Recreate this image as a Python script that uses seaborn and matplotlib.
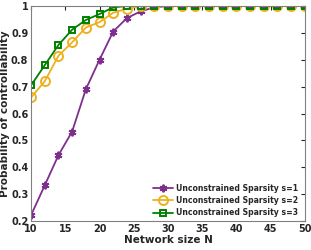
import matplotlib
matplotlib.use("Agg")
import matplotlib.pyplot as plt
import seaborn as sns
import pandas as pd

network_size = [10, 12, 14, 16, 18, 20, 22, 24, 26, 28, 30, 32, 34, 36, 38, 40, 42, 44, 46, 48, 50]
prob_s1 = [0.222, 0.333, 0.445, 0.533, 0.69, 0.80, 0.905, 0.955, 0.98, 0.995, 1, 1, 1, 1, 1, 1, 1, 1, 1, 1, 1]
prob_s2 = [0.66, 0.72, 0.815, 0.865, 0.92, 0.94, 0.975, 0.99, 1, 1, 1, 1, 1, 1, 1, 1, 1, 1, 1, 1, 1]
prob_s3 = [0.705, 0.78, 0.855, 0.912, 0.948, 0.97, 0.995, 1, 1, 1, 1, 1, 1, 1, 1, 1, 1, 1, 1, 1, 1]
labels = ["Unconstrained Sparsity s=1", "Unconstrained Sparsity s=2", "Unconstrained Sparsity s=3"]
colors = ["#7E2F8E", "#EDB120", "#008000"]

df = pd.concat([
    pd.DataFrame({"N": network_size, "p": vals, "series": lab})
    for vals, lab in zip([prob_s1, prob_s2, prob_s3], labels)
])

sns.set_style("white")
plt.rcParams["font.family"] = ["DejaVu Sans"]
plt.rcParams["font.weight"] = "bold"

fig = plt.figure(figsize=(3.11, 2.5), dpi=100)
ax = fig.add_axes([0.1, 0.116, 0.88, 0.86])

markers = {labels[0]: (6, 2, 0), labels[1]: "o", labels[2]: "s"}
sizes = {labels[0]: 5.5, labels[1]: 6.5, labels[2]: 4.8}
for lab, col in zip(labels, colors):
    sub = df[df["series"] == lab]
    sns.lineplot(data=sub, x="N", y="p", ax=ax, color=col, linewidth=1.3,
                 marker=markers[lab], markersize=sizes[lab], markerfacecolor="none",
                 markeredgecolor=col, markeredgewidth=1.4, label=lab)

ax.set_xlim(10, 50)
ax.set_ylim(0.2, 1)
ax.set_xticks(range(10, 51, 5))
ax.set_yticks([0.2, 0.3, 0.4, 0.5, 0.6, 0.7, 0.8, 0.9, 1])
ax.set_yticklabels(["0.2", "0.3", "0.4", "0.5", "0.6", "0.7", "0.8", "0.9", "1"])
ax.tick_params(direction="in", length=3, labelsize=7, top=True, right=True,
               colors="#262626", pad=2)
for t in ax.get_xticklabels() + ax.get_yticklabels():
    t.set_fontweight("bold")
for sp in ax.spines.values():
    sp.set_color("#808080")
    sp.set_linewidth(0.8)
ax.set_xlabel("Network size N", fontsize=7.5, fontweight="bold", labelpad=1)
ax.set_ylabel("Probability of controllability", fontsize=7.5, fontweight="bold", labelpad=1)
leg = ax.legend(loc="lower right", fontsize=5.6, frameon=False, handlelength=2.6,
                borderaxespad=0.5, labelspacing=0.4, handletextpad=0.3,
                bbox_to_anchor=(1.0, -0.015))
for t in leg.get_texts():
    t.set_fontweight("bold")

fig.savefig("out.png", dpi=100)
